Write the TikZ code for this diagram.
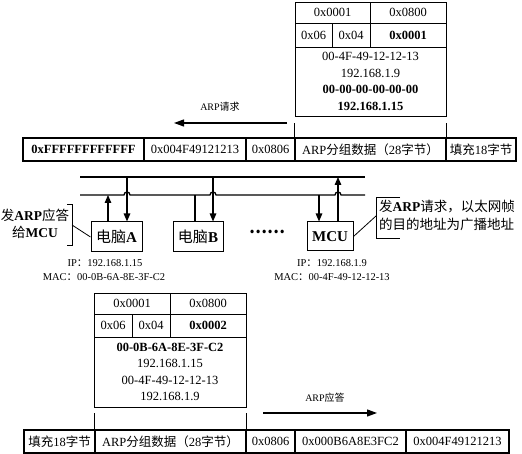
\documentclass[tikz,border=0pt]{standalone}
\usepackage{fontspec}
\setmainfont{Liberation Serif}
\newfontfamily\cjk{Noto Sans CJK SC}
\usetikzlibrary{arrows.meta}

\begin{document}
\begin{tikzpicture}[
			x=1pt, y=1pt,
			cell/.style={draw, line width=0.8pt, inner sep=0pt, font=\fontsize{12.5}{15}\selectfont},
			frame/.style={cell, line width=1.1pt, minimum height=23pt},
			body/.style={cell, align=center, font=\fontsize{12.5}{16.5}\selectfont},
			pc/.style={draw, line width=1pt, inner sep=0pt, minimum height=30pt, font=\fontsize{15}{18}\selectfont},
			bus/.style={line width=1.3pt},
			arr/.style={line width=1.3pt, -{Triangle[length=8pt,width=6.5pt]}},
			flow/.style={line width=1.2pt, -{Triangle[length=10pt,width=7pt]}},
			guide/.style={line width=0.8pt},
			note/.style={font=\fontsize{13.5}{17.5}\selectfont, align=center, inner sep=0pt},
			addr/.style={font=\fontsize{10.5}{13}\selectfont, inner sep=0pt},
			]

			\newcommand{\zh}[1]{{\cjk #1}}

			\useasboundingbox (0,0) rectangle (522,454);

			% ARP request packet
			\node [cell, minimum width=75pt, minimum height=21pt] (rq-htype) at (332.5,441.5) {0x0001};
			\node [cell, minimum width=76pt, minimum height=21pt] (rq-ptype) at (408,441.5)   {0x0800};
			\node [cell, minimum width=37pt, minimum height=24pt] (rq-hlen)  at (313.5,419)   {0x06};
			\node [cell, minimum width=38pt, minimum height=24pt] (rq-plen)  at (351,419)     {0x04};
			\node [cell, minimum width=76pt, minimum height=24pt] (rq-op)    at (408,419)     {\bfseries 0x0001};
			\node [body, minimum width=151pt, minimum height=69pt] (rq-body) at (370.5,372.5)
				{00-4F-49-12-12-13\\192.168.1.9\\\textbf{00-00-00-00-00-00}\\\textbf{192.168.1.15}};

			% request frame
			\node [frame, minimum width=121pt] (rq-dst)  at (83.5,304.5)  {\bfseries 0xFFFFFFFFFFFF};
			\node [frame, minimum width=102pt] (rq-src)  at (195,304.5)   {0x004F49121213};
			\node [frame, minimum width=49pt]  (rq-type) at (270.5,304.5) {0x0806};
			\node [frame, minimum width=151pt] (rq-data) at (370.5,304.5) {ARP\zh{分组数据（}28\zh{字节）}};
			\node [frame, minimum width=70pt]  (rq-pad)  at (481,304.5)   {\zh{填充}18\zh{字节}};

			\coordinate (rq-from) at (287,331);
			\coordinate (rq-to)   at (174,331);
			\draw [flow]  (rq-from) -- (rq-to);
			\node [addr, font=\fontsize{10}{12}\selectfont] (rq-label) at (220,347) {ARP\zh{请求}};
			\draw [guide] (rq-data.north west) -- (rq-data.north west |- rq-from);
			\draw [guide] (rq-data.north east) -- (rq-data.north east |- rq-from);

			% bus
			\coordinate (bus1-w) at (80,277);
			\coordinate (bus1-e) at (365,277);
			\coordinate (bus2-w) at (80,259);
			\coordinate (bus2-e) at (365,259);
			\draw [bus] (bus1-w) -- (bus1-e);
			\draw [bus] (bus2-w) -- (124,259) arc[start angle=180, end angle=0, radius=3pt]
				-- (210,259) arc[start angle=180, end angle=0, radius=3pt]
				-- (335,259) arc[start angle=180, end angle=0, radius=3pt] -- (bus2-e);

			% hosts
			\node [pc, minimum width=51pt] (pcA) at (116.5,217) {\zh{电脑}\textbf{A}};
			\node [pc, minimum width=50pt] (pcB) at (198,217)   {\zh{电脑}\textbf{B}};
			\node [pc, minimum width=46pt, minimum height=29pt] (mcu) at (330,217.5) {\bfseries MCU};
			\node [font=\fontsize{16}{18}\selectfont\bfseries, inner sep=0pt] (dots) at (267,222) {\zh{……}};

			\coordinate (a-tx)  at (108,259);
			\coordinate (a-rx)  at (127,277);
			\coordinate (b-tap) at (195,259);
			\coordinate (b-rx)  at (213,277);
			\coordinate (m-rx)  at (319,259);
			\coordinate (m-tx)  at (338,277);
			\draw [arr] (pcA.north -| a-tx) -- (a-tx);
			\draw [arr] (a-rx) -- (pcA.north -| a-rx);
			\draw [bus] (b-tap) -- (pcB.north -| b-tap);
			\draw [arr] (b-rx) -- (pcB.north -| b-rx);
			\draw [arr] (m-rx) -- (mcu.north -| m-rx);
			\draw [arr] (mcu.north -| m-tx) -- (m-tx);

			\node [addr] (pcA-ip)  at (105,191) {IP\zh{：}192.168.1.15};
			\node [addr] (pcA-mac) at (104,177) {MAC\zh{：}00-0B-6A-8E-3F-C2};
			\node [addr] (mcu-ip)  at (332,191) {IP\zh{：}192.168.1.9};
			\node [addr] (mcu-mac) at (332,177) {MAC\zh{：}00-4F-49-12-12-13};

			% notes
			\node [note] (noteA) at (35,230) {\zh{发}\textbf{ARP}\zh{应答}\\\zh{给}\textbf{MCU}};
			\coordinate (noteA-tip) at (72,229);
			\draw [guide] (67,250) -- (72,250) -- (72,209) -- (67,209);
			\draw [guide] (noteA-tip) -- (pcA.west);

			\node [note, anchor=west, align=left] (noteM) at (379,238.5)
				{\zh{发}\textbf{ARP}\zh{请求，以太网帧}\\\zh{的目的地址为广播地址}};
			\coordinate (noteM-tip) at (376,238);
			\draw [guide] (400,257) -- (376,257) -- (376,216) -- (400,216);
			\draw [guide] (mcu.east) -- (noteM-tip);

			% ARP reply packet
			\node [cell, minimum width=76pt, minimum height=21pt] (rp-htype) at (132,150.5) {0x0001};
			\node [cell, minimum width=76pt, minimum height=21pt] (rp-ptype) at (208,150.5) {0x0800};
			\node [cell, minimum width=38pt, minimum height=23pt] (rp-hlen)  at (113,128.5) {0x06};
			\node [cell, minimum width=38pt, minimum height=23pt] (rp-plen)  at (151,128.5) {0x04};
			\node [cell, minimum width=76pt, minimum height=23pt] (rp-op)    at (208,128.5) {\bfseries 0x0002};
			\node [body, minimum width=152pt, minimum height=70pt] (rp-body) at (170,82)
				{\textbf{00-0B-6A-8E-3F-C2}\\192.168.1.15\\00-4F-49-12-12-13\\192.168.1.9};

			% reply frame
			\node [frame, minimum width=71pt]  (rp-pad)  at (59.5,12.5)  {\zh{填充}18\zh{字节}};
			\node [frame, minimum width=151pt] (rp-data) at (170.5,12.5) {ARP\zh{分组数据（}28\zh{字节）}};
			\node [frame, minimum width=49pt]  (rp-type) at (270.5,12.5) {0x0806};
			\node [frame, minimum width=111pt] (rp-dst)  at (350.5,12.5) {0x000B6A8E3FC2};
			\node [frame, minimum width=103pt] (rp-src)  at (457.5,12.5) {0x004F49121213};

			\coordinate (rp-from) at (263,41);
			\coordinate (rp-to)   at (377,41);
			\draw [flow]  (rp-from) -- (rp-to);
			\node [addr, font=\fontsize{10}{12}\selectfont] (rp-label) at (325,56) {ARP\zh{应答}};
			\draw [guide] (rp-data.north west) -- (rp-data.north west |- rp-from);
			\draw [guide] (rp-data.north east) -- (rp-data.north east |- rp-from);

		\end{tikzpicture}
\end{document}
